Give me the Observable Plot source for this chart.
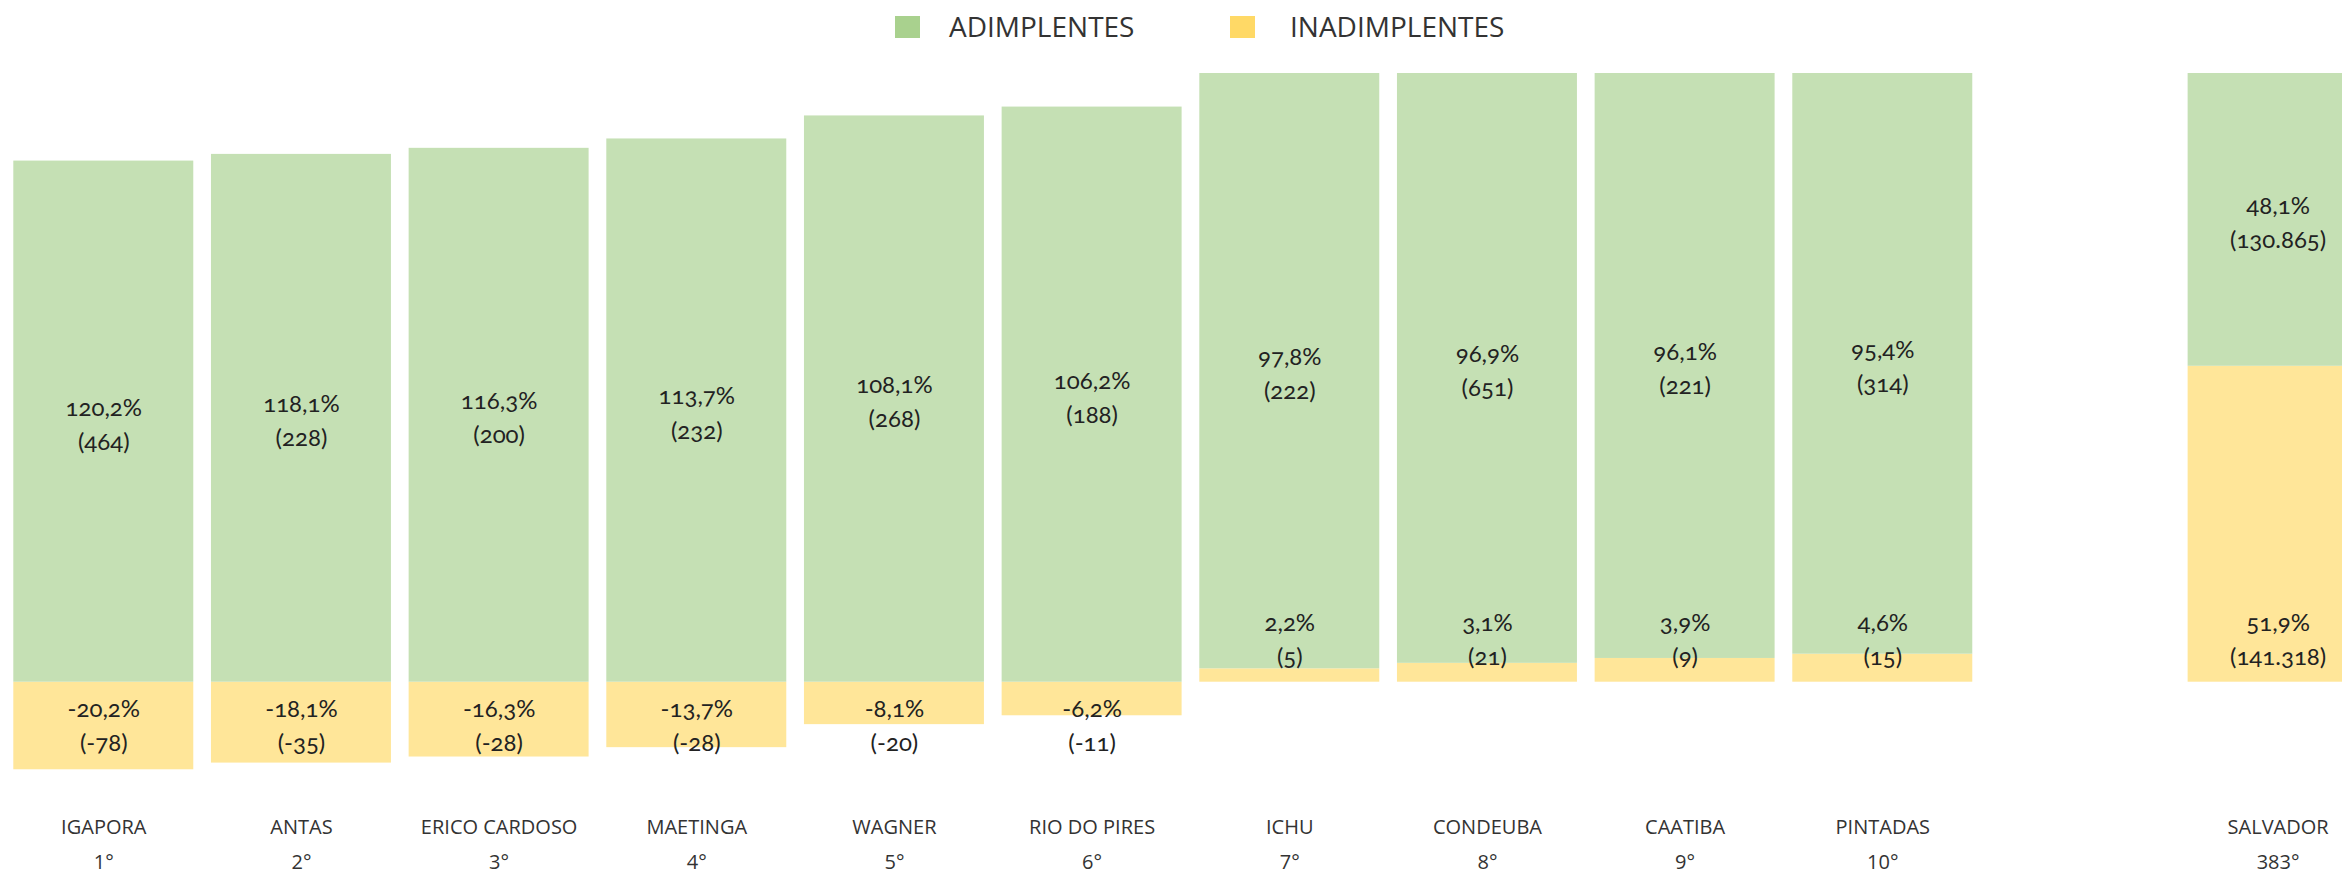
<!DOCTYPE html>
<html><head><meta charset="utf-8">
<script src="https://cdn.jsdelivr.net/npm/d3@7"></script>
<script src="https://cdn.jsdelivr.net/npm/@observablehq/plot@0.6"></script>
<style>
html,body{margin:0;padding:0;background:#fff;overflow:hidden;}
#legend{position:relative;width:2342px;height:54px;font-family:"Open Sans",sans-serif;color:#333;}
.sw{position:absolute;top:16px;width:25px;height:22px;}
.lab{position:absolute;top:12px;font-size:28px;line-height:28px;white-space:nowrap;}
</style></head><body>
<div id="legend"></div>
<div id="chart"></div>
<script>
// ---- data ----
const cities = ["IGAPORA","ANTAS","ERICO CARDOSO","MAETINGA","WAGNER","RIO DO PIRES","ICHU","CONDEUBA","CAATIBA","PINTADAS","SALVADOR"];
const ranks = ["1°","2°","3°","4°","5°","6°","7°","8°","9°","10°","383°"];
const adimPct = [120.2,118.1,116.3,113.7,108.1,106.2,97.8,96.9,96.1,95.4,48.1];
const adimCount = [464,228,200,232,268,188,222,651,221,314,130865];
const inadPct = [-20.2,-18.1,-16.3,-13.7,-8.1,-6.2,2.2,3.1,3.9,4.6,51.9];
const inadCount = [-78,-35,-28,-28,-20,-11,5,21,9,15,141318];
const seriesNames = ["ADIMPLENTES","INADIMPLENTES"];
const seriesColors = ["#C5E0B4","#FFE699"];
const legendColors = ["#A9D18E","#FFD966"];

// ---- legend ----
const legend = document.getElementById("legend");
[[895,949],[1230,1290]].forEach(([sx,tx],i)=>{
  const s = document.createElement("div"); s.className="sw"; s.style.left=sx+"px"; s.style.background=legendColors[i]; legend.appendChild(s);
  const t = document.createElement("div"); t.className="lab"; t.style.left=tx+"px"; t.textContent=seriesNames[i]; legend.appendChild(t);
});

// ---- derived rows ----
const gapSlot = " ";
const xDomain = [...cities.slice(0,10), gapSlot, cities[10]];
const rankOf = new Map(cities.map((c,i)=>[c,ranks[i]]));
const loc = d3.formatLocale({decimal:",", thousands:".", grouping:[3], currency:["R$",""], minus:"-"});
const fPct = loc.format(".1f"), fCnt = loc.format(",d");
const label = d => `${fPct(d.pct)}%\n(${fCnt(d.count)})`;
const rows = [];
cities.forEach((c,i)=>{
  const tot = Math.abs(adimPct[i]) + Math.abs(inadPct[i]);
  rows.push({city:c, series:"INADIMPLENTES", pct:inadPct[i], count:inadCount[i], frac:inadPct[i]/tot});
  rows.push({city:c, series:"ADIMPLENTES", pct:adimPct[i], count:adimCount[i], frac:adimPct[i]/tot});
});
const inadRows = rows.filter(d=>d.series==="INADIMPLENTES");

const txt = {fontFamily:"Lato", fontSize:24, lineHeight:1.42, fill:"#222", fontVariant:"oldstyle-nums"};

const plot = Plot.plot({
  width: 2342, height: 820,
  marginTop: 19, marginBottom: 192.3, marginLeft: 0, marginRight: 0,
  style: {fontFamily:"Open Sans", background:"#fff"},
  x: {type:"band", domain:xDomain, range:[13.3, 2367.6], paddingInner:0.0895, paddingOuter:0, round:false, label:null},
  y: {domain:[0,1], axis:null},
  color: {domain:seriesNames, range:seriesColors},
  marks: [
    Plot.barY(rows, Plot.stackY({x:"city", y:"frac", fill:"series"})),
    Plot.text(rows, Plot.stackY({x:"city", y:"frac", text: d => d.series==="ADIMPLENTES" ? label(d) : null, ...txt})),
    Plot.text(inadRows.filter(d=>d.pct>0), {x:"city", y:0, dy:-45, text:label, ...txt}),
    Plot.text(inadRows.filter(d=>d.pct<0), {x:"city", y:0, dy:41, text:label, ...txt}),
    Plot.axisX({tickSize:0, tickPadding:127, fontSize:20, lineHeight:1.75, fill:"#333", label:null,
      tickFormat: d => d===gapSlot ? "" : `${d}\n${rankOf.get(d)}`})
  ]
});
document.getElementById("chart").appendChild(plot);
</script>
</body></html>
